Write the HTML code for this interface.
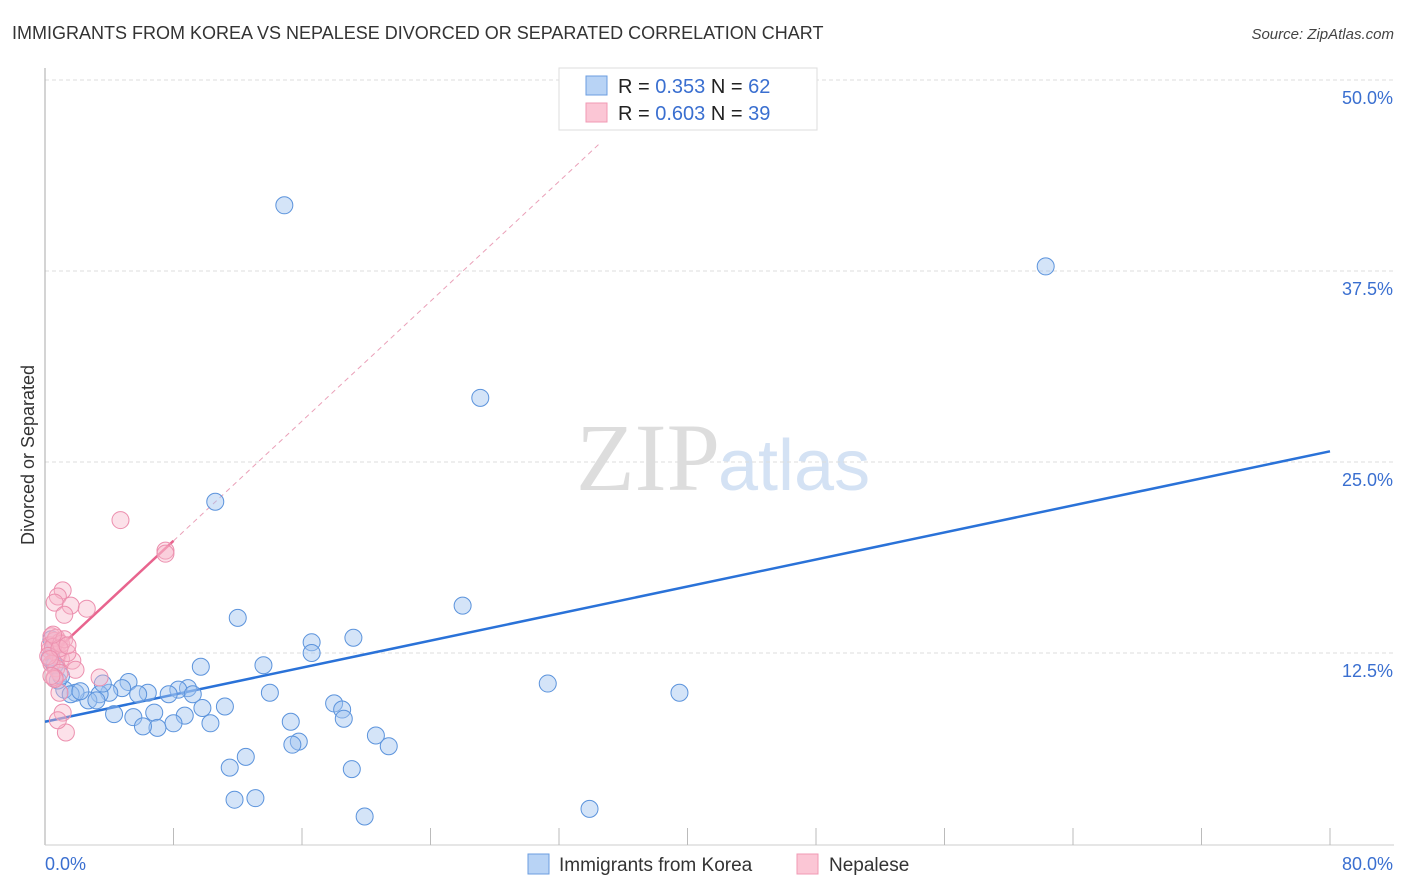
<!DOCTYPE html>
<html><head><meta charset="utf-8"><style>
body{margin:0;background:#fff;font-family:"Liberation Sans",sans-serif;}
svg{display:block}
</style></head><body>
<svg id="chart" width="1406" height="892" xmlns="http://www.w3.org/2000/svg" font-family="Liberation Sans, sans-serif">
<text x="12" y="39" font-size="18" fill="#333">IMMIGRANTS FROM KOREA VS NEPALESE DIVORCED OR SEPARATED CORRELATION CHART</text>
<text x="1394" y="39" font-size="15" fill="#444" text-anchor="end" font-style="italic">Source: ZipAtlas.com</text>
<text x="720" y="490" font-size="96" fill="#ddd" text-anchor="end" font-family="Liberation Serif, serif">ZIP</text>
<text x="718" y="490" font-size="72" fill="#d4e2f4">atlas</text>
<text transform="translate(34,455) rotate(-90)" font-size="18" fill="#333" text-anchor="middle">Divorced or Separated</text>
<g id="grid"></g><g id="axes"></g><g id="lines"></g><g id="pts"></g>
<g>
<rect x="559" y="68" width="258" height="62" fill="#fff" stroke="#ddd"/>
<rect x="586" y="76" width="21" height="19" fill="#b8d3f5" stroke="#6b9ee0"/>
<text x="618" y="93" font-size="20" fill="#222">R = <tspan fill="#3a6fd0">0.353</tspan>   N = <tspan fill="#3a6fd0">62</tspan></text>
<rect x="586" y="103" width="21" height="19" fill="#fbc6d5" stroke="#f09ab4"/>
<text x="618" y="120" font-size="20" fill="#222">R = <tspan fill="#3a6fd0">0.603</tspan>   N = <tspan fill="#3a6fd0">39</tspan></text>
</g>
<g>
<rect x="528" y="854" width="21" height="20" fill="#b8d3f5" stroke="#6b9ee0"/>
<text x="559" y="871" font-size="19" fill="#333">Immigrants from Korea</text>
<rect x="797" y="854" width="21" height="20" fill="#fbc6d5" stroke="#f09ab4"/>
<text x="829" y="871" font-size="19" fill="#333">Nepalese</text>
</g>
</svg>
<script>
const xTickLabels=["0.0%","80.0%"];
const yTicks=[12.5,25,37.5,50];
const yTickLabels=["12.5%","25.0%","37.5%","50.0%"];
const koreaX=[14.9,62.3,27.1,10.6,26.0,12.0,19.2,16.6,16.6,13.6,9.7,31.3,39.5,14.0,5.2,8.9,8.3,6.4,7.7,9.2,5.8,4.8,4.0,3.4,2.7,1.9,1.2,3.2,1.6,0.8,0.6,0.4,3.6,9.8,11.2,18.0,18.5,18.6,8.7,6.8,5.5,4.3,15.3,10.3,8.0,7.0,6.1,20.6,15.8,15.4,21.4,12.5,11.5,19.1,11.8,13.1,33.9,19.9,0.5,1.0,0.3,2.2];
const koreaY=[41.8,37.8,29.2,22.4,15.6,14.8,13.5,13.2,12.5,11.7,11.6,10.5,9.9,9.9,10.6,10.2,10.1,9.9,9.8,9.8,9.8,10.2,9.9,9.8,9.4,9.9,10.1,9.4,9.8,10.7,11.7,13.4,10.5,8.9,9.0,9.2,8.8,8.2,8.4,8.6,8.3,8.5,8.0,7.9,7.9,7.6,7.7,7.1,6.7,6.5,6.4,5.7,5.0,4.9,2.9,3.0,2.3,1.8,12.8,11.0,12.2,10.0];
const nepalX=[4.7,7.5,7.5,1.1,0.8,0.6,1.6,2.6,1.2,0.4,0.6,0.9,0.3,0.8,1.0,0.4,0.7,0.9,0.6,1.7,1.9,1.4,3.4,0.9,1.1,1.3,0.8,0.3,0.7,0.5,1.0,0.2,0.6,1.2,0.4,0.9,0.5,0.3,1.4];
const nepalY=[21.2,19.2,19.0,16.6,16.2,15.8,15.6,15.4,15.0,13.6,13.3,13.2,12.7,12.4,12.1,11.8,11.5,11.2,10.9,12.0,11.4,12.5,10.9,9.9,8.6,7.3,8.1,13.0,13.5,12.9,13.1,12.3,10.8,13.4,11.0,12.8,13.7,12.1,13.0];
const koreaTrend=[8.0,25.7];
const nepalTrend=[12.0,0.98];
const NS="http://www.w3.org/2000/svg";
const X0=45,X1=1330,Y0=844,Y1=80;
const sx=v=>X0+(X1-X0)*v/80, sy=v=>Y0-(Y0-Y1)*v/50;
function mk(t,a,p){const e=document.createElementNS(NS,t);for(const k in a)e.setAttribute(k,a[k]);document.getElementById(p).appendChild(e);return e;}
yTicks.forEach((v,i)=>{
 const l=mk('line',{x1:X0,x2:1394,y1:sy(v),y2:sy(v),stroke:'#ddd','stroke-dasharray':'4,3'},'grid');
 
 
 const t=mk('text',{x:1393,y:sy(v)+24,'font-size':18,fill:'#3a6fd0','text-anchor':'end'},'axes');
 t.textContent=yTickLabels[i];
 
 
});
const ax=mk('line',{x1:X0,x2:X0,y1:68,y2:845,stroke:'#aaa'},'axes');


const bx=mk('line',{x1:X0,x2:1394,y1:845,y2:845,stroke:'#ccc'},'axes');


for(let v=8;v<=80;v+=8){const t=mk('line',{x1:sx(v),x2:sx(v),y1:828,y2:845,stroke:'#bbb'},'axes');
 
 }
[[0,'start',45],[80,'end',1393]].forEach((d,i)=>{const t=mk('text',{x:d[2],y:870,'font-size':18,fill:'#3a6fd0','text-anchor':d[1]},'axes');t.textContent=xTickLabels[i];
 
 });
const kl=mk('line',{x1:sx(0),y1:sy(koreaTrend[0]),x2:sx(80),y2:sy(koreaTrend[1]),stroke:'#2a72d8','stroke-width':2.5},'lines');


const nd=mk('line',{x1:sx(8),y1:sy(nepalTrend[0]+nepalTrend[1]*8),x2:sx(34.5),y2:sy(nepalTrend[0]+nepalTrend[1]*34.5),stroke:'#eaa0b8','stroke-width':1,'stroke-dasharray':'5,4'},'lines');


const nl=mk('line',{x1:sx(0),y1:sy(nepalTrend[0]),x2:sx(8),y2:sy(nepalTrend[0]+nepalTrend[1]*8),stroke:'#e8648e','stroke-width':2.5},'lines');


koreaX.forEach((v,i)=>{const c=mk('circle',{cx:sx(v),cy:sy(koreaY[i]),r:8.5,fill:'rgba(160,196,240,0.45)',stroke:'#5b93dc','stroke-width':1},'pts');
 
 });
nepalX.forEach((v,i)=>{const c=mk('circle',{cx:sx(v),cy:sy(nepalY[i]),r:8.5,fill:'rgba(248,180,200,0.4)',stroke:'#ec8fae','stroke-width':1},'pts');
 
 });
</script>
</body></html>
